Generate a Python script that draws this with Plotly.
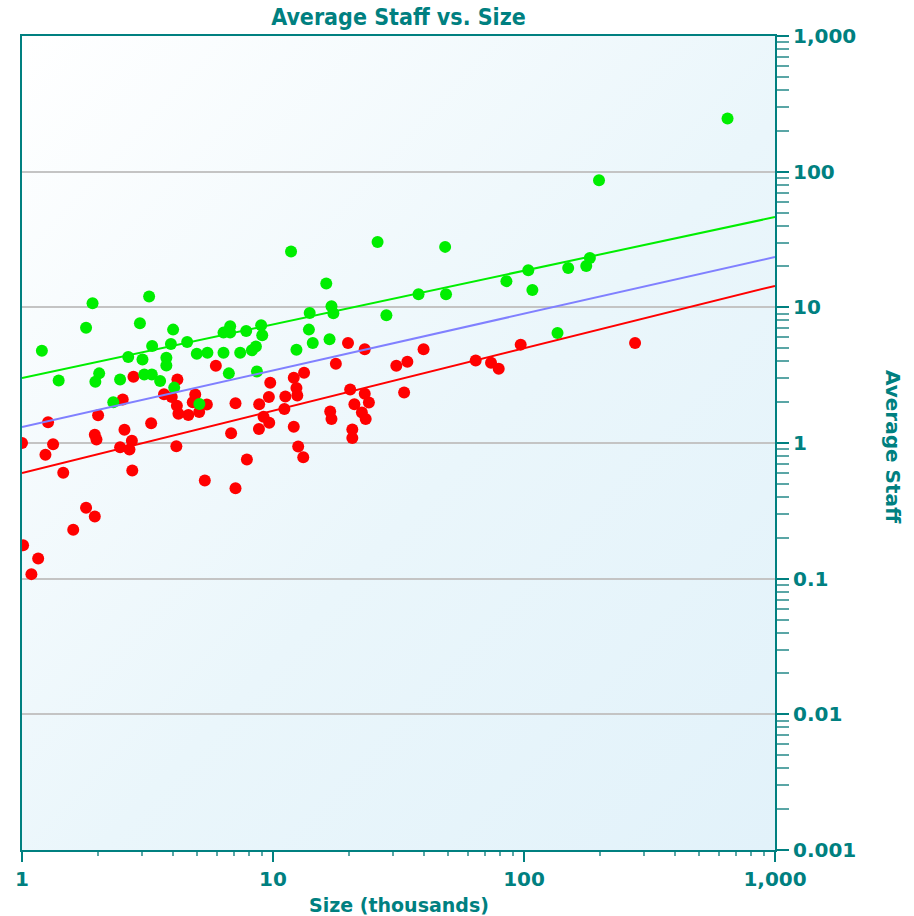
import base64
import plotly.graph_objects as go

# Size (thousands) and average staff for the two groups of sites
green_x = [1.91, 3.21, 1.80, 2.95, 4.00, 3.30, 3.92, 4.55, 1.20, 2.65,
           3.02, 3.76, 3.76, 4.97, 5.48, 6.35, 7.40, 6.35, 6.75, 6.75,
           7.82, 8.24, 1.40, 2.03, 1.96, 2.46, 3.07, 3.29, 3.55, 4.04,
           6.67, 2.31, 5.09, 11.8, 26.1, 48.5, 16.3, 38.0, 48.9, 14.0,
           17.1, 17.4, 28.3, 8.97, 9.06, 13.9, 14.4, 16.8, 12.4, 8.55,
           8.63, 199, 183, 177, 150, 104, 85.1, 108, 136, 647]
green_y = [10.7, 12.0, 7.08, 7.62, 6.85, 5.18, 5.36, 5.55, 4.79, 4.30,
           4.13, 4.25, 3.73, 4.55, 4.63, 4.63, 4.63, 6.51, 7.24, 6.51,
           6.68, 4.82, 2.89, 3.26, 2.83, 2.94, 3.20, 3.20, 2.86, 2.56,
           3.26, 2.00, 1.94, 25.8, 30.3, 27.9, 15.0, 12.5, 12.5, 9.08,
           10.2, 9.03, 8.73, 7.37, 6.22, 6.85, 5.45, 5.81, 4.87, 5.15,
           3.37, 86.5, 23.1, 20.2, 19.5, 18.8, 15.6, 13.4, 6.46, 247]

red_x = [5.92, 2.78, 4.16, 2.52, 3.68, 3.95, 4.90, 4.79, 5.45, 4.14,
         4.20, 4.60, 5.08, 7.09, 2.01, 1.27, 2.56, 1.95, 1.98, 3.27,
         2.74, 2.46, 2.68, 4.12, 6.81, 1.00, 1.33, 1.24, 1.46, 2.75,
         7.87, 5.35, 7.09, 1.80, 1.95, 1.60, 1.01, 1.16, 1.09, 19.9,
         23.2, 39.8, 17.8, 31.0, 34.3, 64.2, 73.9, 79.3, 12.1, 13.3,
         9.75, 12.4, 12.5, 11.2, 9.63, 8.81, 11.1, 20.3, 23.2, 21.1,
         24.1, 22.6, 23.4, 16.9, 17.1, 33.3, 9.17, 9.66, 8.79, 12.1,
         20.7, 20.7, 12.6, 13.2, 97.0, 277]
red_y = [3.71, 3.08, 2.94, 2.09, 2.29, 2.18, 2.28, 2.00, 1.92, 1.88,
         1.64, 1.61, 1.69, 1.96, 1.60, 1.42, 1.25, 1.15, 1.06, 1.40,
         1.04, 0.931, 0.895, 0.947, 1.18, 1.00, 0.98, 0.818, 0.603, 0.627,
         0.756, 0.529, 0.464, 0.333, 0.287, 0.229, 0.176, 0.141, 0.108, 5.45,
         4.90, 4.90, 3.84, 3.71, 3.97, 4.06, 3.91, 3.53, 3.03, 3.30,
         2.78, 2.54, 2.24, 2.20, 2.18, 1.93, 1.78, 2.48, 2.31, 1.93,
         1.99, 1.68, 1.50, 1.71, 1.50, 2.36, 1.56, 1.41, 1.27, 1.32,
         1.26, 1.09, 0.942, 0.786, 5.31, 5.45]

# Trend lines: value at size 1 and at size 1,000
trend_x = [1, 1000]
green_trend = [3.01, 46.3]
blue_trend = [1.31, 23.5]
red_trend = [0.60, 14.4]

x_ticks = [1, 10, 100, 1000]
x_tick_text = ["1", "10", "100", "1,000"]
y_ticks = [0.001, 0.01, 0.1, 1, 10, 100, 1000]
y_tick_text = ["0.001", "0.01", "0.1", "1", "10", "100", "1,000"]

TEAL = "#008080"
TICK_FONT = dict(family="DejaVu Sans, Verdana, sans-serif", size=20, color=TEAL, weight="bold")


def minor_vals(lo_exp, hi_exp):
    return [k * 10.0 ** e for e in range(lo_exp, hi_exp) for k in range(2, 10)]


# Soft diagonal wash behind the plot area
svg = (
    '<svg xmlns="http://www.w3.org/2000/svg" width="100" height="100" preserveAspectRatio="none">'
    '<defs><linearGradient id="g" x1="0" y1="0" x2="1" y2="1">'
    '<stop offset="0" stop-color="#ffffff"/>'
    '<stop offset="0.55" stop-color="#eaf6fb"/>'
    '<stop offset="1" stop-color="#e2f2fa"/>'
    '</linearGradient></defs>'
    '<rect width="100" height="100" fill="url(#g)"/></svg>'
)
bg_uri = "data:image/svg+xml;base64," + base64.b64encode(svg.encode()).decode()

fig = go.Figure()

fig.add_trace(go.Scatter(
    x=red_x, y=red_y, mode="markers",
    marker=dict(color="#ff0000", size=12, line=dict(width=0)),
    hoverinfo="x+y",
))
fig.add_trace(go.Scatter(
    x=green_x, y=green_y, mode="markers",
    marker=dict(color="#00ee00", size=12, line=dict(width=0)),
    hoverinfo="x+y",
))
for vals, col in [(green_trend, "#00ee00"), (blue_trend, "#8080ff"), (red_trend, "#ff0000")]:
    fig.add_trace(go.Scatter(
        x=trend_x, y=vals, mode="lines",
        line=dict(color=col, width=2),
        hoverinfo="skip",
    ))

fig.update_layout(
    width=914, height=916,
    margin=dict(l=22, r=139, t=36, b=66),
    paper_bgcolor="white",
    plot_bgcolor="rgba(0,0,0,0)",
    showlegend=False,
    images=[dict(source=bg_uri, xref="paper", yref="paper", x=0, y=1,
                 sizex=1, sizey=1, sizing="stretch", layer="below",
                 xanchor="left", yanchor="top")],
    title=dict(
        text="Average Staff vs. Size",
        x=0.5, xref="paper", xanchor="center",
        y=1 - 17 / 916, yref="container", yanchor="middle",
        font=dict(family="Liberation Sans Narrow, DejaVu Sans Condensed, Arial Narrow, sans-serif",
                  size=23, color=TEAL, weight="bold"),
    ),
    xaxis=dict(
        type="log", range=[0, 3],
        tickmode="array", tickvals=x_ticks, ticktext=x_tick_text,
        ticks="outside", ticklen=10, tickwidth=1.5, tickcolor=TEAL,
        minor=dict(tickmode="array", tickvals=minor_vals(0, 3), ticks="outside",
                   ticklen=4, tickwidth=1.5, tickcolor="#5aa6a6", showgrid=False),
        showgrid=False, zeroline=False,
        showline=True, linecolor=TEAL, linewidth=2, mirror=True,
        tickfont=TICK_FONT,
    ),
    yaxis=dict(
        type="log", range=[-3, 3], side="right",
        tickmode="array", tickvals=y_ticks, ticktext=y_tick_text,
        ticks="outside", ticklen=12, tickwidth=1.5, tickcolor=TEAL,
        minor=dict(tickmode="array", tickvals=minor_vals(-3, 3), ticks="outside",
                   ticklen=12, tickwidth=1.5, tickcolor="#5aa6a6", showgrid=False),
        showgrid=True, gridcolor="#c4c4c4", gridwidth=1.5, zeroline=False,
        showline=True, linecolor=TEAL, linewidth=2, mirror=True,
        tickfont=TICK_FONT,
    ),
    annotations=[
        dict(text="Size (thousands)", xref="paper", yref="paper",
             x=0.5, y=(850 - 892) / 814, xanchor="center", yanchor="top",
             showarrow=False,
             font=dict(family="DejaVu Sans, Verdana, sans-serif", size=19, color=TEAL, weight="bold")),
        dict(text="Average Staff", xref="paper", yref="paper",
             x=(893 - 22) / 753, y=(850 - 447) / 814, xanchor="center", yanchor="middle",
             textangle=90, showarrow=False,
             font=dict(family="DejaVu Sans, Verdana, sans-serif", size=20, color=TEAL, weight="bold")),
    ],
)

fig.write_html("out.html")
